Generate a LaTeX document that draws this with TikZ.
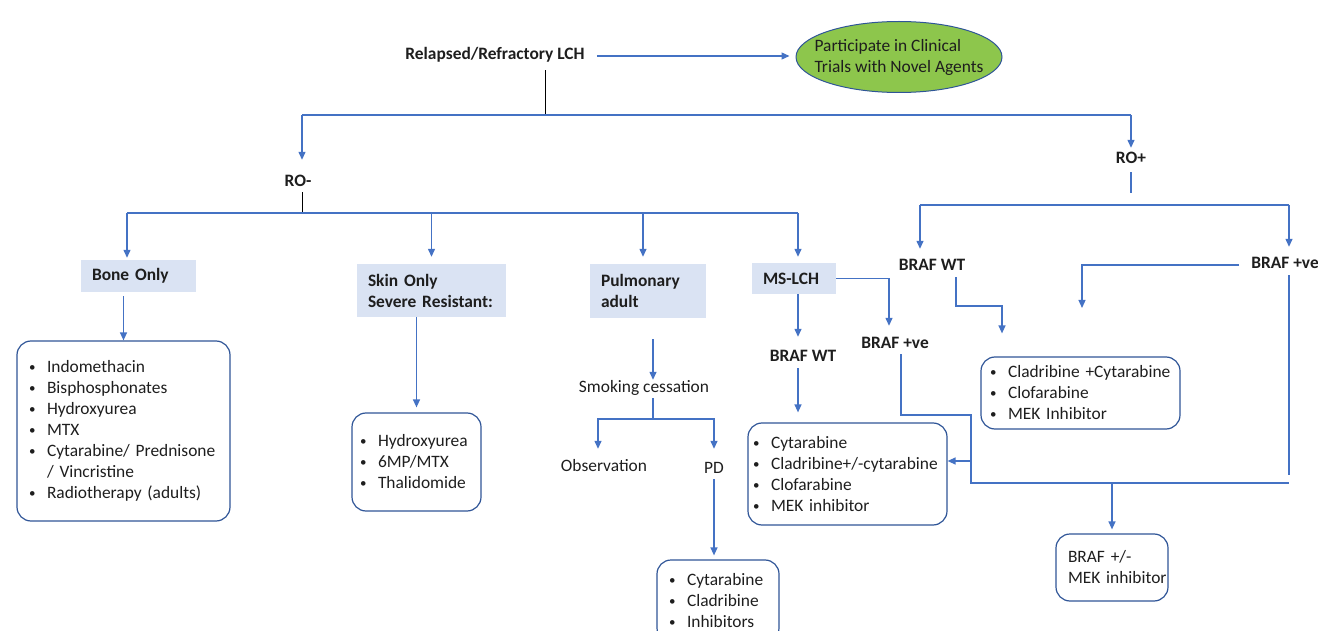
\documentclass[tikz,border=0pt]{standalone}
\usepackage{fontspec}
\setmainfont{Carlito}
\usetikzlibrary{arrows.meta,positioning,shapes.geometric}
\definecolor{lineblue}{RGB}{68,114,196}
\definecolor{boxblue}{RGB}{47,85,151}
\definecolor{catfill}{RGB}{218,227,243}
\definecolor{trialgreen}{RGB}{141,198,76}
\definecolor{txt}{RGB}{30,30,30}
\newcommand{\fs}{\fontsize{17.4}{21}\selectfont}
\newcommand{\bul}{\makebox[18pt][l]{\raisebox{1pt}{\fontsize{13}{13}\selectfont\textbullet}}}
\tikzset{
    lbl/.style={font=\fs\bfseries,text=txt,inner sep=0pt,text height=12pt,text depth=4pt},
    plain/.style={font=\fs,text=txt,inner sep=0pt,text height=12pt,text depth=4pt},
    catbox/.style={fill=catfill,font=\fs\bfseries,text=txt,align=left,inner ysep=0pt,inner xsep=11pt},
    listbox/.style={draw=boxblue,line width=1.2pt,rounded corners=14pt,font=\fs,text=txt,align=left,inner ysep=0pt},
    trial/.style={ellipse,draw=boxblue,line width=1pt,fill=trialgreen,font=\fs,text=txt,align=left,
        minimum width=206pt,minimum height=71pt,inner xsep=-14pt,inner ysep=0pt},
    flow/.style={lineblue,line width=1.3pt},
    arr/.style={flow,-{Triangle[length=8pt,width=7pt]}},
    blk/.style={black,line width=0.8pt}
}

\begin{document}
\begin{tikzpicture}[x=1pt,y=-1pt]
    \useasboundingbox (0,0) rectangle (1318,631);
    % top
    \node[lbl] (title) at (495,56) {Relapsed/Refractory LCH};
    \node[trial] (trials) at (899,57) {Participate in Clinical\\Trials with Novel Agents};
    \node[lbl] (rominus) at (298,183) {RO-};
    \node[lbl] (roplus) at (1131,160) {RO+};
    \coordinate (split) at (545,115);
    \coordinate (topL) at (302,115);
    \coordinate (topR) at (1131,115);
    \draw[arr,shorten <=12pt,shorten >=6pt] (title.east) -- (title.east -| trials.west);
    \draw[blk,shorten <=6pt] (title.south -| split) -- (split);
    \draw[flow] (topL) -- (topR);
    \draw[arr,shorten >=15pt] (topL) -- (topL |- rominus.north);
    \draw[arr,shorten >=4pt] (topR) -- (roplus.north);

    % RO- branch
    \node[catbox,text width=93pt,minimum height=32pt] (bone) at (138.5,276) {Bone Only};
    \node[catbox,text width=127pt,minimum height=53pt] (skin) at (431.5,290.5) {Skin Only\\Severe Resistant:};
    \node[catbox,text width=94pt,minimum height=54pt] (pulm) at (648,291) {Pulmonary\\adult};
    \node[catbox,text width=62pt,minimum height=31pt] (ms) at (794,278.5) {MS-LCH};
    \coordinate (roL) at (127,213);
    \coordinate (roR) at (798,213);
    \draw[blk,shorten <=1pt] (rominus.south -| topL) -- (topL |- roL);
    \draw[flow] (roL) -- (roR);
    \draw[arr,shorten >=2pt] (roL) -- (roL |- bone.north);
    \draw[arr,shorten >=7pt] (skin.north |- roL) -- (skin.north);
    \draw[arr,shorten >=7pt] ([xshift=-5pt]pulm.north |- roL) -- ([xshift=-5pt]pulm.north);
    \draw[arr,shorten >=6pt] (roR) -- (roR |- ms.north);

    \node[listbox,text width=189pt,inner xsep=12pt,minimum height=180pt] (bonelist) at (123.5,431)
        {\bul Indomethacin\\\bul Bisphosphonates\\\bul Hydroxyurea\\\bul MTX\\\bul Cytarabine/~Prednisone\\\makebox[18pt]{}/ Vincristine\\\bul Radiotherapy~(adults)};
    \node[listbox,text width=113pt,inner xsep=8pt,minimum height=98pt] (skinlist) at (416.5,462)
        {\bul Hydroxyurea\\\bul 6MP/MTX\\\bul Thalidomide};
    \draw[arr,shorten <=4pt] (bone.south -| bonelist) -- (bonelist.north);
    \draw[arr,shorten >=5pt] (skin.south -| skinlist) -- (skinlist.north);

    % pulmonary
    \node[plain] (smoking) at (644,388) {Smoking cessation};
    \node[plain] (obs) at (604,467) {Observation};
    \node[plain] (pd) at (714,469) {PD};
    \node[listbox,text width=98pt,inner xsep=12pt,minimum height=82pt] (pdlist) at (718,601)
        {\bul Cytarabine\\\bul Cladribine\\\bul Inhibitors};
    \coordinate (smk) at (653,419);
    \draw[arr,shorten <=21pt] ([xshift=5pt]pulm.south) -- ([xshift=5pt]pulm.south |- smoking.north);
    \draw[flow,shorten <=2pt] (smk |- smoking.south) -- (smk);
    \draw[arr,shorten >=10pt] (smk) -| ([xshift=-6pt]obs.north);
    \draw[arr,shorten >=12pt] (smk) -| (pd.north);
    \draw[arr,shorten <=2pt,shorten >=4pt] (pd.south) -- (pd.south |- pdlist.north);

    % MS-LCH
    \node[lbl] (brafwtA) at (803,357) {BRAF WT};
    \node[lbl] (brafpvA) at (895,344) {BRAF +ve};
    \node[listbox,text width=189pt,inner xsep=5pt,minimum height=102pt] (mslist) at (847.5,474)
        {\bul Cytarabine\\\bul Cladribine+/-cytarabine\\\bul Clofarabine\\\bul MEK~inhibitor};
    \coordinate (bend) at (971,415);
    \coordinate (tap) at (971,461);
    \coordinate (mergeL) at (971,483);
    \coordinate (mergeR) at (1289,483);
    \draw[arr,shorten >=12pt] (roR |- ms.south) -- (roR |- brafwtA.north);
    \draw[arr,shorten <=3pt,shorten >=10pt] (roR |- brafwtA.south) -- (roR |- mslist.north);
    \draw[arr,shorten >=10pt] (ms.east) -| ([xshift=-6pt]brafpvA.north);
    \draw[flow,shorten <=2pt] ([xshift=6pt]brafpvA.south) |- (bend) -- (mergeL) -- (mergeR);
    \draw[arr] (tap) -- (tap -| mslist.east);

    % RO+ branch
    \node[lbl] (brafwtB) at (932,267) {BRAF WT};
    \node[lbl] (brafpvB) at (1285,265) {BRAF +ve};
    \node[listbox,text width=181pt,inner xsep=9pt,minimum height=72pt] (rlist) at (1080.5,393)
        {\bul Cladribine~+Cytarabine\\\bul Clofarabine\\\bul MEK~Inhibitor};
    \node[listbox,text width=88pt,inner xsep=12pt,minimum height=67pt] (brafmek) at (1112,567.5)
        {\mbox{BRAF +/-}\\\mbox{MEK inhibitor}};
    \coordinate (rpEnd) at (1131,193);
    \coordinate (rbL) at (920,205);
    \coordinate (rbR) at (1289,205);
    \coordinate (wtBend) at (1002,306);
    \coordinate (pvEnd) at (1082,308);
    \coordinate (pvDown) at (1289,475);
    \draw[flow,shorten <=4pt] (roplus.south) -- (rpEnd);
    \draw[flow] (rbL) -- (rbR);
    \draw[arr,shorten >=10pt] (rbL) -- (rbL |- brafwtB.north);
    \draw[arr,shorten >=10pt] (rbR) -- (rbR |- brafpvB.north);
    \draw[arr,shorten <=2pt,shorten >=23pt] ([xshift=24pt]brafwtB.south) |- (wtBend) -- (wtBend |- rlist.north);
    \draw[arr,shorten <=12pt] (brafpvB.west) -| (pvEnd);
    \draw[flow,shorten <=2pt] (rbR |- brafpvB.south) -- (pvDown);
    \draw[arr,shorten >=4pt] (mergeL -| brafmek) -- (brafmek.north);
\end{tikzpicture}
\end{document}
